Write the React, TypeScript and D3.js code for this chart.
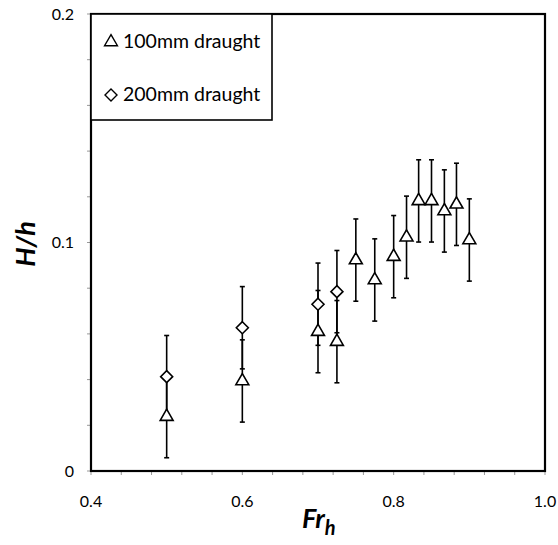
import React from "react";
import * as d3 from "d3";

const fr100 = [0.5, 0.6, 0.7, 0.725, 0.75, 0.775, 0.8, 0.817, 0.833, 0.85, 0.867, 0.883, 0.9];
const h100 = [0.0238, 0.0394, 0.061, 0.0566, 0.0923, 0.0836, 0.0938, 0.1023, 0.1182, 0.1182, 0.1138, 0.1167, 0.1011];
const fr200 = [0.5, 0.6, 0.7, 0.725];
const h200 = [0.0413, 0.0627, 0.073, 0.0785];
const errVal = 0.018;
const xTicks = [0.4, 0.6, 0.8, 1.0];
const yTicks = [0, 0.1, 0.2];
const legendLabels = ["100mm draught", "200mm draught"];

const W = 558, H = 545;
const L = 91, R = 545, T = 14, B = 471;
const FONT = "Lato, 'Open Sans', sans-serif";

export default function App() {
  const x = d3.scaleLinear().domain([0.4, 1.0]).range([L, R]);
  const y = d3.scaleLinear().domain([0, 0.2]).range([B, T]);
  const xMinor = d3.range(0.4, 1.0001, 0.04);
  const yMinor = d3.range(0, 0.2001, 0.02);
  const tri = d3.symbol().type(d3.symbolTriangle).size(72)();
  const dia = (s: number) => `M0,${-s}L${s},0L0,${s}L${-s},0Z`;

  const errBar = (xv: number, yv: number, k: string) => {
    const cx = x(xv), y1 = y(yv + errVal), y2 = y(yv - errVal);
    return (
      <g key={k} stroke="#000" strokeWidth={1.6}>
        <line x1={cx} x2={cx} y1={y1} y2={y2} />
        <line x1={cx - 2.5} x2={cx + 2.5} y1={y1} y2={y1} />
        <line x1={cx - 2.5} x2={cx + 2.5} y1={y2} y2={y2} />
      </g>
    );
  };

  return (
    <svg width={W} height={H} style={{ position: "absolute", left: 0, top: 0 }} fontFamily={FONT}>
      <rect width={W} height={H} fill="#fff" />
      {xMinor.map((v, i) => (
        <line key={"xt" + i} x1={x(v)} x2={x(v)} y1={B} y2={B + 4} stroke="#999" strokeWidth={1} />
      ))}
      {yMinor.map((v, i) => (
        <line key={"yt" + i} x1={L - 4} x2={L} y1={y(v)} y2={y(v)} stroke="#999" strokeWidth={1} />
      ))}
      <rect x={L} y={T} width={R - L} height={B - T} fill="none" stroke="#000" strokeWidth={2.2} />
      {xTicks.map((v) => (
        <text key={"xl" + v} x={x(v)} y={507} textAnchor="middle" fontSize={16} fill="#000">
          {v.toFixed(1)}
        </text>
      ))}
      {yTicks.map((v) => (
        <text key={"yl" + v} x={74} y={y(v) + 5.5} textAnchor="end" fontSize={16} fill="#000">
          {v === 0 ? "0" : String(v)}
        </text>
      ))}
      <text transform={`translate(35,244) rotate(-90)`} textAnchor="middle" fontSize={27} fontWeight="bold" fontStyle="italic" fill="#000">
        H/h
      </text>
      <text x={302} y={528} fontSize={27} fontWeight="bold" fontStyle="italic" fill="#000">
        Fr<tspan dy={7} fontSize={20}>h</tspan>
      </text>
      {fr100.map((v, i) => errBar(v, h100[i], "e1" + i))}
      {fr200.map((v, i) => errBar(v, h200[i], "e2" + i))}
      {fr200.map((v, i) => (
        <path key={"d" + i} d={dia(6)} transform={`translate(${x(v)},${y(h200[i])})`} fill="#fff" stroke="#000" strokeWidth={1.6} />
      ))}
      {fr100.map((v, i) => (
        <path key={"t" + i} d={tri!} transform={`translate(${x(v)},${y(h100[i])})`} fill="#fff" stroke="#000" strokeWidth={1.6} />
      ))}
      <rect x={L} y={T} width={272 - L} height={120 - T} fill="#fff" stroke="#000" strokeWidth={1.6} />
      <path d={tri!} transform="translate(111,42)" fill="none" stroke="#000" strokeWidth={1.4} />
      <text x={123} y={48} fontSize={19.5} fill="#000">{legendLabels[0]}</text>
      <path d={dia(6)} transform="translate(111,95)" fill="none" stroke="#000" strokeWidth={1.4} />
      <text x={123} y={101} fontSize={19.5} fill="#000">{legendLabels[1]}</text>
    </svg>
  );
}
